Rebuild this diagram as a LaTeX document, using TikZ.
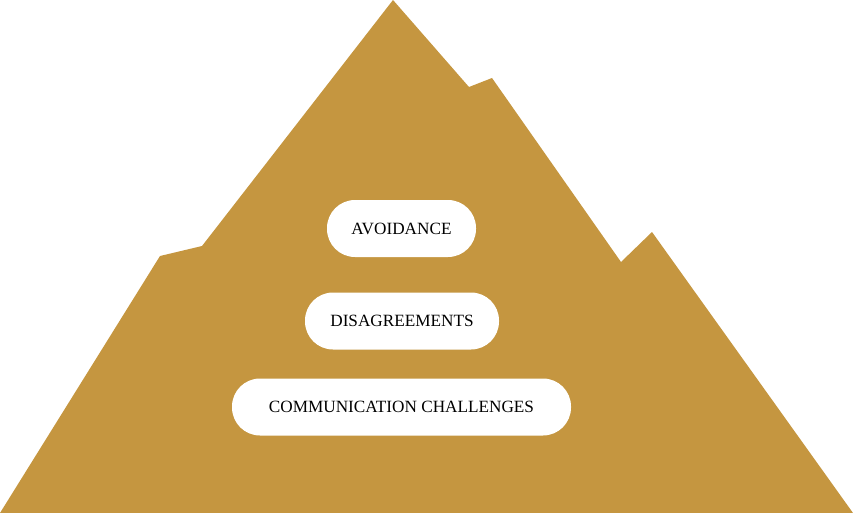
\documentclass[tikz,border=0pt]{standalone}
\usepackage{fontspec}
\setmainfont{Liberation Serif}
\usepackage{tikz}
\definecolor{gold}{RGB}{197,150,64}

\begin{document}
\begin{tikzpicture}[x=1pt, y=-1pt]
\useasboundingbox (0,0) rectangle (853,513);
\fill[gold] (0,513) -- (160,256) -- (202,246) -- (393,0) -- (469,87) -- (492,78)
    -- (621,262) -- (652,232) -- (853,513) -- cycle;
\begin{scope}[every node/.style={fill=white, rounded corners=28pt, inner sep=0pt, minimum height=57pt, font=\fontsize{17.2}{20}\selectfont}]
    \node[minimum width=149pt] (avoid) at (401.5,228.5) {AVOIDANCE};
    \node[minimum width=194pt] (disagree) at (402,321) {DISAGREEMENTS};
    \node[minimum width=339pt] (comm) at (401.5,407) {COMMUNICATION CHALLENGES};
\end{scope}
\end{tikzpicture}
\end{document}
